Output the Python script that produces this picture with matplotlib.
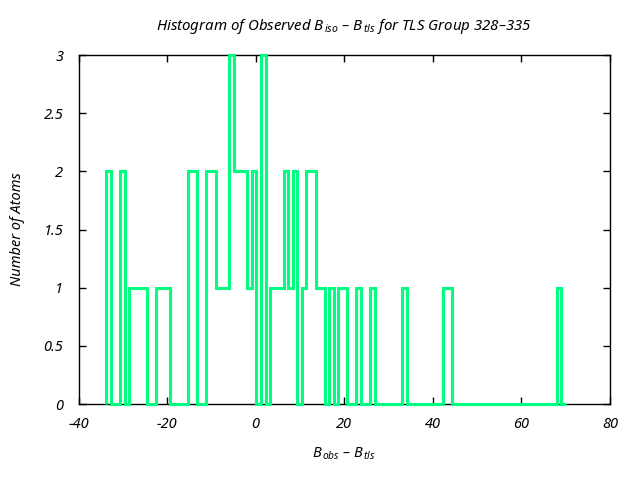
import numpy as np
import matplotlib
matplotlib.use('Agg')
import matplotlib.pyplot as plt

# histogram of B_obs - B_tls, 101 equal bins
bin_lo, bin_hi = -33.7, 70.0
counts = [2, 0, 0, 2, 0, 1, 1, 1, 1, 0,
          0, 1, 1, 1, 0, 0, 0, 0, 2, 2,
          0, 0, 2, 2, 1, 1, 1, 3, 2, 2,
          2, 1, 2, 0, 3, 0, 1, 1, 1, 2,
          1, 2, 0, 1, 2, 2, 1, 1, 0, 1,
          0, 1, 1, 0, 0, 1, 0, 0, 1, 0,
          0, 0, 0, 0, 0, 1, 0, 0, 0, 0,
          0, 0, 0, 0, 1, 1, 0, 0, 0, 0,
          0, 0, 0, 0, 0, 0, 0, 0, 0, 0,
          0, 0, 0, 0, 0, 0, 0, 0, 0, 1,
          0]
x_ticks = [-40, -20, 0, 20, 40, 60, 80]
y_ticks = [0, 0.5, 1, 1.5, 2, 2.5, 3]
y_tick_labels = ['0', '0.5', '1', '1.5', '2', '2.5', '3']

plt.rcParams['font.family'] = ['Noto Sans', 'DejaVu Sans']
plt.rcParams['font.style'] = 'italic'
plt.rcParams['font.size'] = 10.5
plt.rcParams['mathtext.fontset'] = 'custom'
plt.rcParams['mathtext.it'] = 'Noto Sans:italic'
plt.rcParams['mathtext.rm'] = 'Noto Sans:italic'

fig = plt.figure(figsize=(6.4, 4.8), dpi=100)
ax = fig.add_axes([0.1227, 0.1583, 0.8303, 0.7267])

edges = np.linspace(bin_lo, bin_hi, len(counts) + 1)
ax.stairs(counts, edges, color='#00ff80', linewidth=2.2, baseline=0, clip_on=False, zorder=3)

ax.set_xlim(-40, 80)
ax.set_ylim(0, 3)
ax.set_xticks(x_ticks)
ax.set_xticklabels(['\u2212%d' % -v if v < 0 else str(v) for v in x_ticks])
ax.set_yticks(y_ticks)
ax.set_yticklabels(y_tick_labels)
ax.tick_params(direction='in', length=5, width=1, top=True, right=True)
ax.tick_params(axis='x', pad=9)
ax.tick_params(axis='y', pad=11)
for s in ax.spines.values():
    s.set_linewidth(1)

ax.set_xlabel('$B_{\\,obs}$ \u2013 $B_{\\,tls}$', labelpad=10)
ax.set_ylabel('Number of Atoms', labelpad=13)
ax.set_title('Histogram of Observed $B_{\\,iso}$ \u2013 $B_{\\,tls}$ for TLS Group 328\u2013335',
             fontsize=10.8, pad=18)

fig.savefig('out.png', dpi=100)
